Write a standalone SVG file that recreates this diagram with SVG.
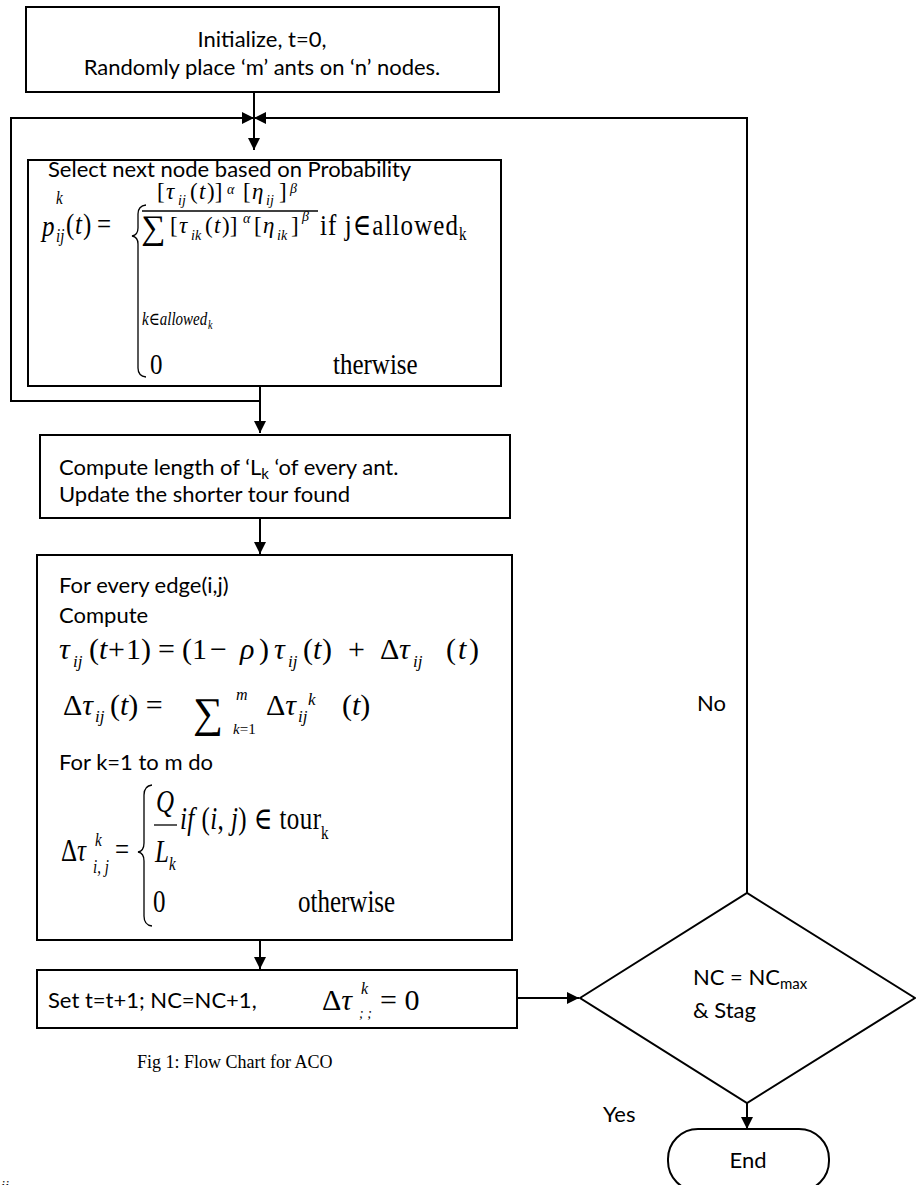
<svg xmlns="http://www.w3.org/2000/svg" width="916" height="1185" viewBox="0 0 916 1185">
<defs>
<marker id="ah" viewBox="0 0 10 10" refX="10" refY="5" markerUnits="userSpaceOnUse" markerWidth="12" markerHeight="12" orient="auto"><path d="M0,0 L10,5 L0,10 z" fill="#000"/></marker>
<style>
.box{fill:#fff;stroke:#000;stroke-width:2}
.t{font-family:Lato,'Liberation Sans',sans-serif;font-size:22px;fill:#000}
.m{font-family:'Liberation Serif','DejaVu Serif',serif;font-size:25px;fill:#000}
.n{font-size:23px}
.b{font-size:30px}
.i{font-style:italic}
.s{font-size:15px}
.xs{font-size:14px}
.ss{font-size:17px}
.c{stroke:#000;stroke-width:2;fill:none}
.br{stroke:#000;stroke-width:1.3;fill:none}
</style>
</defs>
<rect width="916" height="1185" fill="#fff"/>

<g id="connectors">
<path class="c" d="M254,92 V150" marker-end="url(#ah)"/>
<path class="c" d="M260,401 H11 V118 H254" marker-end="url(#ah)"/>
<path class="c" d="M747,895 V118 H254" marker-end="url(#ah)"/>
<path class="c" d="M260,386 V433" marker-end="url(#ah)"/>
<path class="c" d="M260,518 V554" marker-end="url(#ah)"/>
<path class="c" d="M260,940 V969" marker-end="url(#ah)"/>
<path class="c" d="M517,998 H579" marker-end="url(#ah)"/>
<path class="c" d="M747,1103 V1129" marker-end="url(#ah)"/>
</g>

<g id="init">
<rect class="box" x="26" y="7" width="473" height="85"/>
<text class="t" x="262" y="47" text-anchor="middle">Initialize, t=0,</text>
<text class="t" x="262" y="75" text-anchor="middle">Randomly place ‘m’ ants on ‘n’ nodes.</text>
</g>

<g id="select">
<rect class="box" x="28" y="160" width="473" height="226"/>
<text class="t" x="48" y="177">Select next node based on Probability</text>
<path class="br" d="M146,205 Q138,206 138,214 L138,228 Q138,235 132,236 Q138,237 138,244 L138,368 Q138,376 146,377"/>
<line x1="142" y1="211" x2="318" y2="211" stroke="#000" stroke-width="1.3"/>
<text class="m n" x="157" y="199">[</text><text class="m n i" x="166" y="199">τ</text><text class="m i xs" x="178" y="205">ij</text>
<text class="m n" x="190" y="199">(</text><text class="m n i" x="199" y="199">t</text><text class="m n" x="207" y="199">)]</text>
<text class="m i xs" x="227" y="194">α</text>
<text class="m n" x="243" y="199">[</text><text class="m n i" x="252" y="199">η</text><text class="m i xs" x="266" y="205">ij</text><text class="m n" x="279" y="199">]</text>
<text class="m i xs" x="290" y="193">β</text>
<text class="m" x="141" y="239" style="font-size:34px">∑</text>
<text class="m n" x="170" y="233">[</text><text class="m n i" x="179" y="233">τ</text><text class="m i xs" x="191" y="240">ik</text>
<text class="m n" x="205" y="233">(</text><text class="m n i" x="214" y="233">t</text><text class="m n" x="222" y="233">)]</text>
<text class="m i xs" x="243" y="223">α</text>
<text class="m n" x="254" y="233">[</text><text class="m n i" x="263" y="233">η</text><text class="m i xs" x="277" y="240">ik</text><text class="m n" x="291" y="233">]</text>
<text class="m i xs" x="302" y="221">β</text>
<g transform="translate(0,234) scale(1,1.2)">
<text class="m i" x="42" y="1.7">p</text>
<text class="m i s" x="56" y="-25">k</text>
<text class="m i s" x="56" y="6.7">ij</text>
<text class="m" x="66" y="0">(</text><text class="m i" x="75" y="0">t</text><text class="m" x="83" y="0">)</text>
<text class="m" x="97" y="0">=</text>
<text class="m" x="320" y="0.8" textLength="138" lengthAdjust="spacing">if j∈allowed</text>
<text class="m s" x="459" y="5">k</text>
<text class="m i s" x="142" y="75.8">k∈allowed</text>
<text class="m i" x="208" y="79" style="font-size:10px">k</text>
<text class="m" x="150" y="116.7">0</text>
<text class="m" x="333" y="116.7">therwise</text>
</g>
</g>

<g id="compute">
<rect class="box" x="40" y="435" width="470" height="83"/>
<text class="t" x="59" y="475">Compute length of ‘L<tspan font-size="15" dy="4">k</tspan><tspan dy="-4"> ‘of every ant.</tspan></text>
<text class="t" x="59" y="502">Update the shorter tour found</text>
</g>

<g id="update">
<rect class="box" x="37" y="555" width="475" height="385"/>
<text class="t" x="59" y="593">For every edge(i,j)</text>
<text class="t" x="59" y="623">Compute</text>
<text class="m b i" x="59" y="659">τ</text><text class="m i ss" x="73" y="667">ij</text>
<text class="m b" x="89" y="659">(</text><text class="m b i" x="99" y="659">t</text><text class="m b" x="108" y="659">+</text><text class="m b" x="126" y="659">1)</text>
<text class="m b" x="158" y="659">=</text>
<text class="m b" x="182" y="659">(1</text><text class="m b" x="210" y="659">−</text><text class="m b i" x="240" y="659">ρ</text><text class="m b" x="259" y="659">)</text>
<text class="m b i" x="274" y="659">τ</text><text class="m i ss" x="288" y="667">ij</text>
<text class="m b" x="303" y="659">(</text><text class="m b i" x="313" y="659">t</text><text class="m b" x="322" y="659">)</text>
<text class="m b" x="348" y="659">+</text>
<text class="m b" x="380" y="659">Δ</text><text class="m b i" x="399" y="659">τ</text><text class="m i ss" x="413" y="667">ij</text>
<text class="m b" x="446" y="659">(</text><text class="m b i" x="458" y="659">t</text><text class="m b" x="469" y="659">)</text>
<text class="m b" x="63" y="715">Δ<tspan class="i">τ</tspan></text>
<text class="m i ss" x="95" y="722">ij</text>
<text class="m b" x="110" y="715">(<tspan class="i">t</tspan>) =</text>
<text class="m" x="193" y="727" style="font-size:42px">∑</text>
<text class="m i" x="236" y="700" style="font-size:16px">m</text>
<text class="m" x="233" y="734" style="font-size:15px"><tspan class="i">k</tspan>=1</text>
<text class="m b" x="266" y="715">Δ<tspan class="i">τ</tspan></text>
<text class="m i ss" x="298" y="722">ij</text>
<text class="m i ss" x="308" y="705">k</text>
<text class="m b" x="342" y="715">(<tspan class="i">t</tspan>)</text>
<text class="t" x="59" y="770">For k=1 to m do</text>
<path class="br" d="M152,785 Q144,786 144,795 L144,843 Q144,851 138,852 Q144,853 144,861 L144,916 Q144,925 152,926"/>
<line x1="154" y1="825" x2="177" y2="825" stroke="#000" stroke-width="1.3"/>
<g transform="translate(0,861) scale(1,1.25)">
<text class="m" x="61" y="0">Δ<tspan class="i">τ</tspan></text>
<text class="m i s" x="95" y="-12">k</text>
<text class="m i s" x="93" y="9.6">i, j</text>
<text class="m" x="115" y="-1">=</text>
<text class="m i" x="156" y="-39">Q</text>
<text class="m i" x="155" y="0.8">L</text>
<text class="m i s" x="169" y="7">k</text>
<text class="m" x="180" y="-25.6" textLength="141" lengthAdjust="spacing"><tspan class="i">if</tspan> (<tspan class="i">i</tspan>, <tspan class="i">j</tspan>) ∈ tour</text>
<text class="m s" x="321" y="-18">k</text>
<text class="m" x="153" y="40.8">0</text>
<text class="m" x="298" y="40.8">otherwise</text>
</g>
</g>

<g id="increment">
<rect class="box" x="37" y="970" width="480" height="58"/>
<text class="t" x="48" y="1008">Set t=t+1; NC=NC+1,</text>
<text class="m b" x="322" y="1010">Δ<tspan class="i">τ</tspan></text>
<text class="m i" x="361" y="994" style="font-size:16px">k</text>
<text class="m i" x="359" y="1018" style="font-size:14px">; ;</text>
<text class="m b" x="380" y="1010">= 0</text>
</g>

<g id="decision">
<polygon class="box" points="580,998 747,893 915,998 747,1103"/>
<text class="t" x="693" y="985">NC = NC<tspan font-size="15" dy="4">max</tspan></text>
<text class="t" x="693" y="1018">&amp;  Stag</text>
</g>

<g id="end">
<rect class="box" x="668" y="1129" width="161" height="62" rx="30"/>
<text class="t" x="748" y="1168" text-anchor="middle">End</text>
</g>

<g id="labels">
<text class="t" x="697" y="711">No</text>
<text class="t" x="603" y="1122">Yes</text>
<text class="m" x="137" y="1068" style="font-size:18px">Fig 1: Flow Chart for ACO</text>
<text class="m i" x="1" y="1191" style="font-size:14px">ij</text>
</g>
</svg>
